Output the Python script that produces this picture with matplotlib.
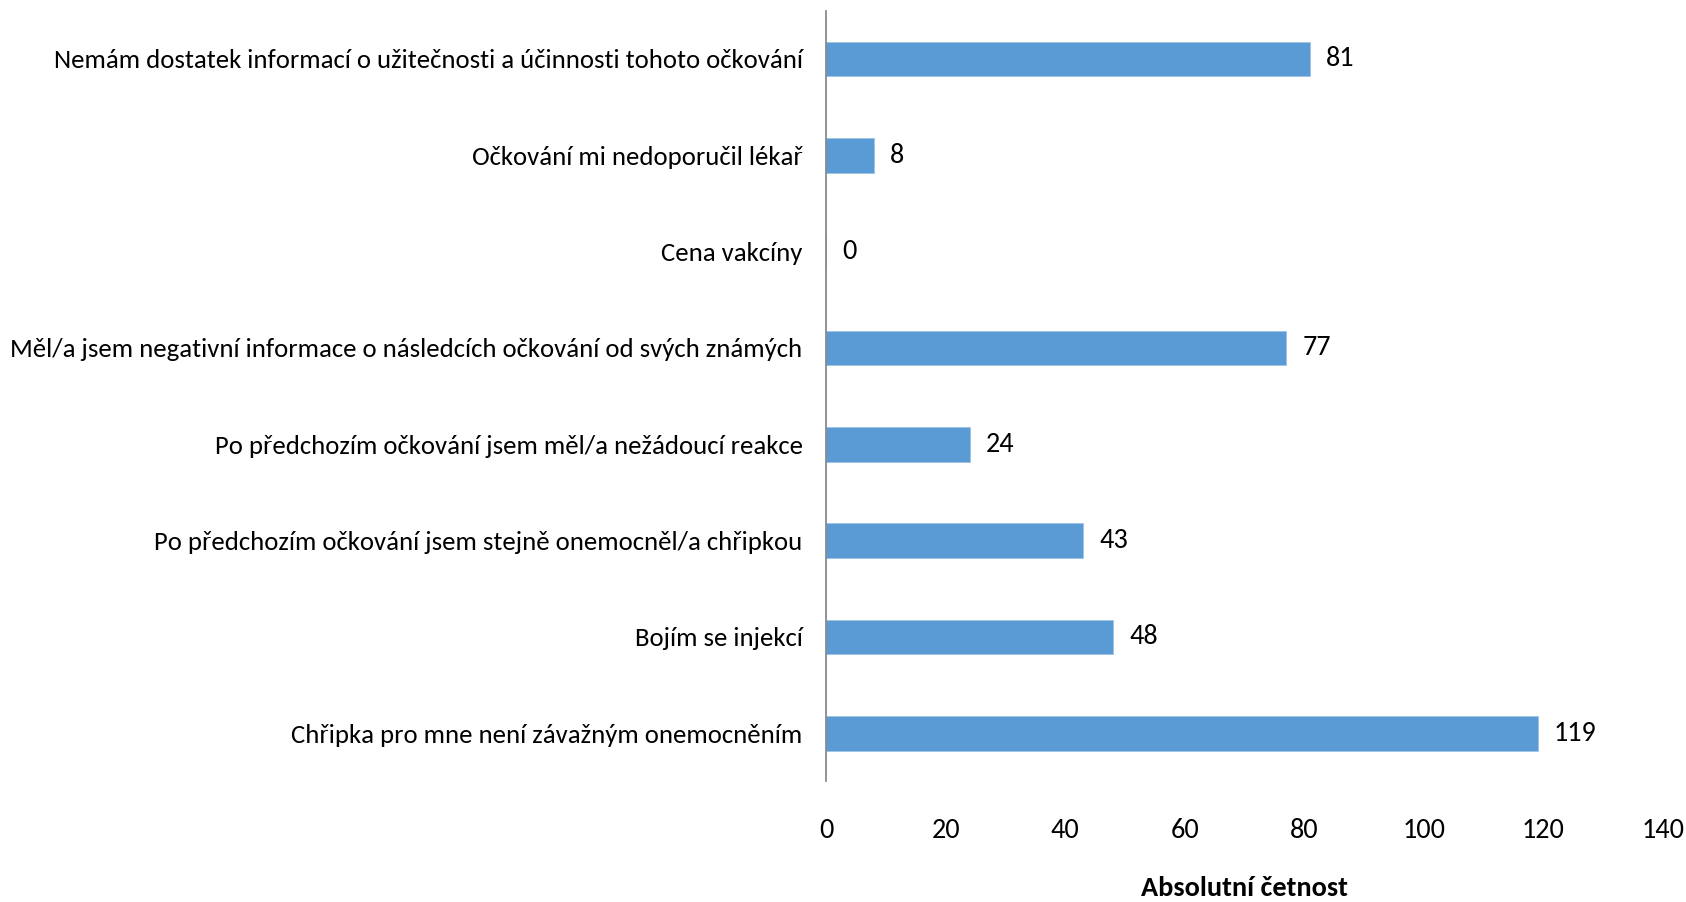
import matplotlib.pyplot as plt

# data
categories = [
    'Nemám dostatek informací o užitečnosti a účinnosti tohoto očkování',
    'Očkování mi nedoporučil lékař',
    'Cena vakcíny',
    'Měl/a jsem negativní informace o následcích očkování od svých známých',
    'Po předchozím očkování jsem měl/a nežádoucí reakce',
    'Po předchozím očkování jsem stejně onemocněl/a chřipkou',
    'Bojím se injekcí',
    'Chřipka pro mne není závažným onemocněním',
]
counts = [81, 8, 0, 77, 24, 43, 48, 119]
xticks = [0, 20, 40, 60, 80, 100, 120, 140]

plt.rcParams['font.family'] = ['Carlito', 'DejaVu Sans']
fs = 19.3

fig = plt.figure(figsize=(16.86, 9.02), dpi=100)
ax = fig.add_axes([0.490, 0.1336, 0.4964, 0.8544])

pos = list(range(len(categories)))
ax.barh(pos, counts, height=0.36, color='#5B9BD5', edgecolor='#9DC3E6', linewidth=0.6)

# popisky hodnot
for y, v in zip(pos, counts):
    ax.annotate(str(v), (v, y), xytext=(16, 0), textcoords='offset pixels',
                ha='left', va='center', fontsize=fs + 1)

ax.set_ylim(len(categories) - 0.5, -0.5)
ax.set_xlim(0, 140)
ax.set_xticks(xticks)
ax.set_yticks(pos)
ax.set_yticklabels(categories)
ax.tick_params(axis='y', length=0, pad=17, labelsize=fs)
ax.tick_params(axis='x', length=0, pad=26, labelsize=fs + 1)

for s in ['top', 'right', 'bottom']:
    ax.spines[s].set_visible(False)
ax.spines['left'].set_color('#808080')
ax.spines['left'].set_linewidth(1.2)

ax.set_xlabel('Absolutní četnost', fontsize=fs + 1, fontweight='bold', labelpad=24)

fig.savefig('out.png', dpi=100)
